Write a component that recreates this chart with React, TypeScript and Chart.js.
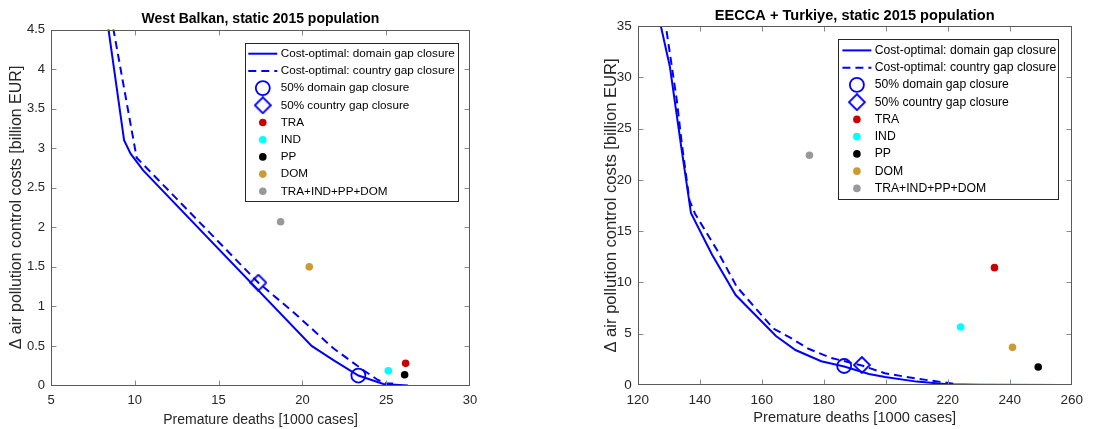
import React, { useEffect, useRef } from "react";
import { Chart, registerables } from "chart.js";

Chart.register(...registerables);

const FONT = "'Liberation Sans', Arial, Helvetica, sans-serif";
const BLUE = "#0000ff";
const TEXT = "#262626";

// ---------- shared labels ----------
const lineLabels = ["Cost-optimal: domain gap closure", "Cost-optimal: country gap closure"];
const halfLabels = ["50% domain gap closure", "50% country gap closure"];
const sectorLabels = ["TRA", "IND", "PP", "DOM", "TRA+IND+PP+DOM"];
const sectorColors = ["#cc0000", "#00ffff", "#000000", "#cc9933", "#999999"];
const xAxisTitle = "Premature deaths [1000 cases]";
const yAxisTitle = "\u0394 air pollution control costs [billion EUR]";

// ---------- West Balkan ----------
const wbTitle = "West Balkan, static 2015 population";
const wbDomainX = [8.1, 9.36, 9.75, 10.5, 20.55, 21.85, 23.34, 24.83, 26.3];
const wbDomainY = [5.0, 3.1, 2.93, 2.72, 0.5, 0.32, 0.126, 0.02, 0.0];
const wbCountryX = [8.3, 10.11, 17.37, 19.5, 21.85, 23.6, 24.5, 25.0, 25.7];
const wbCountryY = [5.0, 2.88, 1.3, 0.92, 0.47, 0.2, 0.07, 0.03, 0.02];
const wbHalfDomain = [23.34, 0.126];
const wbHalfCountry = [17.37, 1.3];
const wbSectorX = [26.16, 25.13, 26.1, 20.41, 18.7];
const wbSectorY = [0.28, 0.185, 0.135, 1.5, 2.07];
const wbXRange = [5, 30, 5];
const wbYRange = [0, 4.5, 0.5];

// ---------- EECCA + Turkiye ----------
const eeTitle = "EECCA + Turkiye, static 2015 population";
const eeDomainX = [126, 130.4, 134.2, 137.2, 144, 151.6, 164.6, 170.9, 179.2, 186.6, 194.6, 199.8, 210, 220, 230, 257.8];
const eeDomainY = [37, 31.0, 22.9, 16.74, 12.7, 8.77, 4.78, 3.41, 2.32, 1.8, 1.08, 0.78, 0.33, 0.07, 0.02, 0];
const eeCountryX = [128.1, 132.6, 134.2, 136.7, 138.5, 145.5, 151.9, 163.8, 168.9, 175.1, 182.3, 192.3, 199.7, 210, 220.2, 223.3];
const eeCountryY = [37, 27.8, 23.6, 18.0, 16.7, 13.2, 9.6, 5.5, 4.67, 3.53, 2.65, 1.9, 1.15, 0.62, 0.2, 0.05];
const eeHalfDomain = [186.6, 1.85];
const eeHalfCountry = [192.3, 1.95];
const eeSectorX = [235.1, 224.2, 249.2, 240.9, 175.4];
const eeSectorY = [11.44, 5.65, 1.75, 3.67, 22.4];
const eeXRange = [120, 260, 20];
const eeYRange = [0, 35, 5];

const zip = (xs: number[], ys: number[]) => xs.map((x, i) => ({ x, y: ys[i] }));
const fmtTick = (v: any) => String(Math.round(Number(v) * 100) / 100);

function makeDiamond(): HTMLCanvasElement {
  const c = document.createElement("canvas");
  c.width = 18;
  c.height = 18;
  const g = c.getContext("2d")!;
  g.strokeStyle = BLUE;
  g.lineWidth = 1.8;
  g.beginPath();
  g.moveTo(9, 1);
  g.lineTo(17, 9);
  g.lineTo(9, 17);
  g.lineTo(1, 9);
  g.closePath();
  g.stroke();
  return c;
}

const frameTicksPlugin = {
  id: "frameTicks",
  afterDatasetsDraw(chart: any) {
    const { ctx, chartArea: a } = chart;
    const xs = chart.scales.x;
    const ys = chart.scales.y;
    const L = 5;
    const l = Math.round(a.left) + 0.5;
    const r = Math.round(a.right) - 0.5;
    const t = Math.round(a.top) + 0.5;
    const b = Math.round(a.bottom) - 0.5;
    ctx.save();
    ctx.lineWidth = 1;
    ctx.strokeStyle = "#8a8a8a";
    ctx.beginPath();
    xs.ticks.forEach((tk: any) => {
      const px = Math.round(xs.getPixelForValue(tk.value)) + 0.5;
      if (px <= l + 1 || px >= r - 1) return;
      ctx.moveTo(px, b);
      ctx.lineTo(px, b - L);
      ctx.moveTo(px, t);
      ctx.lineTo(px, t + L);
    });
    ys.ticks.forEach((tk: any) => {
      const py = Math.round(ys.getPixelForValue(tk.value)) + 0.5;
      if (py <= t + 1 || py >= b - 1) return;
      ctx.moveTo(l, py);
      ctx.lineTo(l + L, py);
      ctx.moveTo(r, py);
      ctx.lineTo(r - L, py);
    });
    ctx.stroke();
    ctx.strokeStyle = "#5a5a5a";
    ctx.strokeRect(l, t, r - l, b - t);
    ctx.restore();
  },
};

const boxLegendPlugin = {
  id: "boxLegend",
  afterDraw(chart: any, _args: any, o: any) {
    const { ctx, chartArea: a } = chart;
    const left = Math.round(a.right - o.insetRight - o.width);
    const top = Math.round(a.top + o.insetTop);
    const w = Math.round(o.width);
    const h = Math.round(o.height);
    ctx.save();
    ctx.fillStyle = "#ffffff";
    ctx.fillRect(left, top, w, h);
    ctx.strokeStyle = "#262626";
    ctx.lineWidth = 1;
    ctx.strokeRect(left + 0.5, top + 0.5, w, h);
    ctx.font = `${o.fontSize}px ${FONT}`;
    ctx.textBaseline = "middle";
    ctx.textAlign = "left";
    chart.data.datasets.forEach((ds: any, i: number) => {
      const cy = top + o.firstRow + i * o.rowHeight;
      const x0 = left + o.sampleStart;
      const x1 = left + o.sampleEnd;
      const cx = (x0 + x1) / 2;
      ctx.save();
      if (ds.legendKind === "line") {
        ctx.strokeStyle = ds.borderColor;
        ctx.lineWidth = ds.borderWidth;
        ctx.setLineDash(ds.borderDash || []);
        ctx.beginPath();
        ctx.moveTo(x0, cy);
        ctx.lineTo(x1, cy);
        ctx.stroke();
      } else if (ds.legendKind === "circle") {
        ctx.strokeStyle = ds.pointBorderColor;
        ctx.lineWidth = ds.pointBorderWidth;
        ctx.beginPath();
        ctx.arc(cx, cy, ds.pointRadius, 0, Math.PI * 2);
        ctx.stroke();
      } else if (ds.legendKind === "diamond") {
        const img = ds.pointStyle;
        ctx.drawImage(img, cx - img.width / 2, cy - img.height / 2);
      } else {
        ctx.fillStyle = ds.pointBackgroundColor;
        ctx.beginPath();
        ctx.arc(cx, cy, ds.pointRadius, 0, Math.PI * 2);
        ctx.fill();
      }
      ctx.restore();
      ctx.fillStyle = "#000000";
      ctx.fillText(ds.label, left + o.textX, cy);
    });
    ctx.restore();
  },
};

type PanelCfg = {
  width: number;
  height: number;
  title: string;
  titleSize: number;
  titlePadBottom: number;
  layoutPadding: { left: number; right: number; top: number; bottom: number };
  domainX: number[];
  domainY: number[];
  countryX: number[];
  countryY: number[];
  halfDomain: number[];
  halfCountry: number[];
  sectorX: number[];
  sectorY: number[];
  xRange: number[];
  yRange: number[];
  yAxisWidth: number;
  xAxisHeight: number;
  tickSize: number;
  xTickPad: number;
  yTickPad: number;
  xTitleSize: number;
  xTitlePadBottom: number;
  yTitleSize: number;
  yTitlePadTop: number;
  legend: any;
};

function buildConfig(p: PanelCfg, diamond: HTMLCanvasElement): any {
  const datasets: any[] = [
    {
      label: lineLabels[0],
      data: zip(p.domainX, p.domainY),
      showLine: true,
      borderColor: BLUE,
      borderWidth: 2,
      pointRadius: 0,
      fill: false,
      legendKind: "line",
    },
    {
      label: lineLabels[1],
      data: zip(p.countryX, p.countryY),
      showLine: true,
      borderColor: BLUE,
      borderWidth: 2,
      borderDash: [8, 5],
      pointRadius: 0,
      fill: false,
      legendKind: "line",
    },
    {
      label: halfLabels[0],
      data: [{ x: p.halfDomain[0], y: p.halfDomain[1] }],
      showLine: false,
      pointStyle: "circle",
      pointRadius: 7,
      pointBorderWidth: 1.8,
      pointBorderColor: BLUE,
      pointBackgroundColor: "rgba(0,0,0,0)",
      legendKind: "circle",
    },
    {
      label: halfLabels[1],
      data: [{ x: p.halfCountry[0], y: p.halfCountry[1] }],
      showLine: false,
      pointStyle: diamond,
      pointRadius: 9,
      legendKind: "diamond",
    },
    ...sectorLabels.map((lab, i) => ({
      label: lab,
      data: [{ x: p.sectorX[i], y: p.sectorY[i] }],
      showLine: false,
      pointStyle: "circle",
      pointRadius: 3.8,
      pointBorderWidth: 0,
      pointBorderColor: sectorColors[i],
      pointBackgroundColor: sectorColors[i],
      legendKind: "dot",
    })),
  ];

  return {
    type: "scatter",
    data: { datasets },
    plugins: [frameTicksPlugin, boxLegendPlugin],
    options: {
      responsive: false,
      animation: false,
      events: [],
      layout: { padding: p.layoutPadding },
      plugins: {
        legend: { display: false },
        tooltip: { enabled: false },
        title: {
          display: true,
          text: p.title,
          fullSize: false,
          color: "#000000",
          font: { family: FONT, size: p.titleSize, weight: "bold", lineHeight: 1.2 },
          padding: { top: 0, bottom: p.titlePadBottom },
        },
        boxLegend: p.legend,
      },
      scales: {
        x: {
          type: "linear",
          min: p.xRange[0],
          max: p.xRange[1],
          afterFit: (s: any) => {
            s.height = p.xAxisHeight;
          },
          grid: { display: false, drawTicks: false },
          border: { display: false },
          ticks: {
            stepSize: p.xRange[2],
            color: TEXT,
            padding: p.xTickPad,
            maxRotation: 0,
            callback: fmtTick,
            font: { family: FONT, size: p.tickSize, lineHeight: 1.2 },
          },
          title: {
            display: true,
            text: xAxisTitle,
            color: TEXT,
            font: { family: FONT, size: p.xTitleSize, lineHeight: 1.2 },
            padding: { top: 0, bottom: p.xTitlePadBottom },
          },
        },
        y: {
          type: "linear",
          min: p.yRange[0],
          max: p.yRange[1],
          afterFit: (s: any) => {
            s.width = p.yAxisWidth;
          },
          grid: { display: false, drawTicks: false },
          border: { display: false },
          ticks: {
            stepSize: p.yRange[2],
            color: TEXT,
            padding: p.yTickPad,
            callback: fmtTick,
            font: { family: FONT, size: p.tickSize, lineHeight: 1.2 },
          },
          title: {
            display: true,
            text: yAxisTitle,
            color: TEXT,
            font: { family: FONT, size: p.yTitleSize, lineHeight: 1.2 },
            padding: { top: p.yTitlePadTop, bottom: 0 },
          },
        },
      },
    },
  };
}

const leftPanel: PanelCfg = {
  width: 553,
  height: 429,
  title: wbTitle,
  titleSize: 14,
  titlePadBottom: 1.7,
  layoutPadding: { left: 0, right: 83, top: 11, bottom: 0 },
  domainX: wbDomainX,
  domainY: wbDomainY,
  countryX: wbCountryX,
  countryY: wbCountryY,
  halfDomain: wbHalfDomain,
  halfCountry: wbHalfCountry,
  sectorX: wbSectorX,
  sectorY: wbSectorY,
  xRange: wbXRange,
  yRange: wbYRange,
  yAxisWidth: 51,
  xAxisHeight: 43.5,
  tickSize: 13,
  xTickPad: 6.7,
  yTickPad: 6,
  xTitleSize: 14,
  xTitlePadBottom: 0,
  yTitleSize: 16,
  yTitlePadTop: 7.4,
  legend: {
    insetRight: 12.3,
    insetTop: 13.8,
    width: 212.7,
    height: 157.7,
    firstRow: 10.7,
    rowHeight: 17.2,
    sampleStart: 3.3,
    sampleEnd: 32.3,
    textX: 35.7,
    fontSize: 11.7,
  },
};

const rightPanel: PanelCfg = {
  width: 554,
  height: 429,
  title: eeTitle,
  titleSize: 14.6,
  titlePadBottom: 1.24,
  layoutPadding: { left: 40, right: 35.3, top: 7.24, bottom: 0 },
  domainX: eeDomainX,
  domainY: eeDomainY,
  countryX: eeCountryX,
  countryY: eeCountryY,
  halfDomain: eeHalfDomain,
  halfCountry: eeHalfCountry,
  sectorX: eeSectorX,
  sectorY: eeSectorY,
  xRange: eeXRange,
  yRange: eeYRange,
  yAxisWidth: 44.7,
  xAxisHeight: 44,
  tickSize: 13.5,
  xTickPad: 6.9,
  yTickPad: 6,
  xTitleSize: 14.6,
  xTitlePadBottom: 1.9,
  yTitleSize: 16.6,
  yTitlePadTop: 8,
  legend: {
    insetRight: 13.4,
    insetTop: 13.3,
    width: 220,
    height: 159.7,
    firstRow: 11.4,
    rowHeight: 17.25,
    sampleStart: 4.4,
    sampleEnd: 33.4,
    textX: 36.7,
    fontSize: 12.2,
  },
};

function Panel({ cfg, left }: { cfg: PanelCfg; left: number }) {
  const ref = useRef<HTMLCanvasElement | null>(null);
  useEffect(() => {
    if (!ref.current) return;
    const chart = new Chart(ref.current, buildConfig(cfg, makeDiamond()));
    return () => chart.destroy();
  }, [cfg]);
  return (
    <div style={{ position: "absolute", left, top: 0, width: cfg.width, height: cfg.height }}>
      <canvas ref={ref} width={cfg.width} height={cfg.height} style={{ width: cfg.width, height: cfg.height, display: "block" }} />
    </div>
  );
}

export default function App() {
  return (
    <div style={{ position: "fixed", left: 0, top: 0, width: 1107, height: 429, background: "#ffffff", overflow: "hidden" }}>
      <Panel cfg={leftPanel} left={0} />
      <Panel cfg={rightPanel} left={553} />
    </div>
  );
}
